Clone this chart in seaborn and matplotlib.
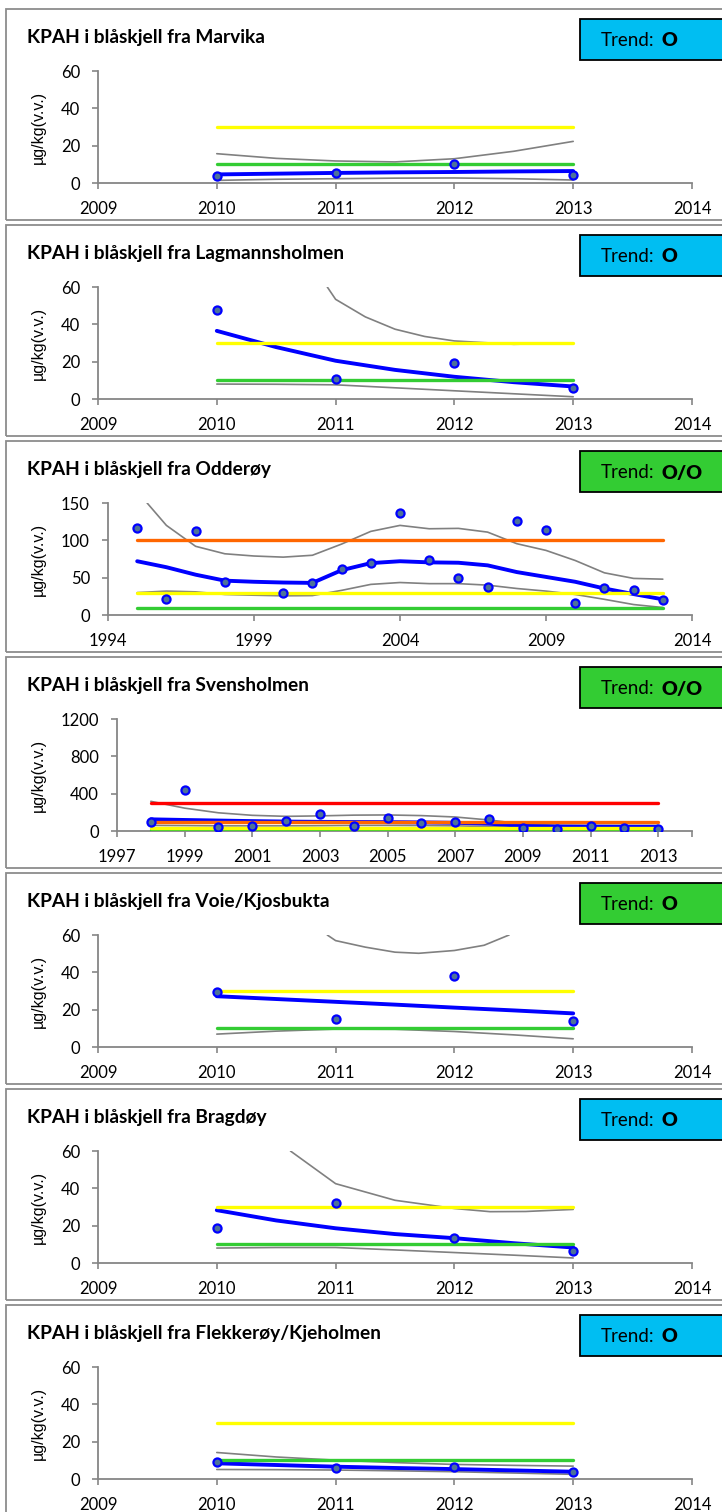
import numpy as np
import pandas as pd
import matplotlib
matplotlib.use("Agg")
import matplotlib.pyplot as plt
from matplotlib.patches import Rectangle
import seaborn as sns

sns.set_theme(style="white")
plt.rcParams["font.family"] = ["Lato", "DejaVu Sans"]

# ---------------- data ----------------
titles = [
    "KPAH i blåskjell fra Marvika",
    "KPAH i blåskjell fra Lagmannsholmen",
    "KPAH i blåskjell fra Odderøy",
    "KPAH i blåskjell fra Svensholmen",
    "KPAH i blåskjell fra Voie/Kjosbukta",
    "KPAH i blåskjell fra Bragdøy",
    "KPAH i blåskjell fra Flekkerøy/Kjeholmen",
]
trend_symbols = ["O", "O", "O/O", "O/O", "O", "O", "O"]
trend_colors = ["#00BEF2", "#00BEF2", "#33CC33", "#33CC33", "#33CC33", "#00BEF2", "#00BEF2"]
ylabel = "µg/kg(v.v.)"

years4 = [2010, 2011, 2012, 2013]
curve_x4 = [2010, 2010.5, 2011, 2011.5, 2012, 2012.5, 2013]
xticks4 = [2009, 2010, 2011, 2012, 2013, 2014]
yticks60 = [0, 20, 40, 60]

# Marvika
marvika_obs = [3.6, 5.6, 10.4, 4.5]
marvika_trend = [4.6, 5.0, 5.4, 5.7, 5.9, 6.2, 6.4]
marvika_upper_x = curve_x4
marvika_upper = [15.7, 13.2, 11.8, 11.3, 13.0, 17.0, 22.3]
marvika_lower = [1.4, 2.0, 2.3, 2.6, 2.7, 2.3, 1.6]
marvika_levels = [10, 30]

# Lagmannsholmen
lagm_obs = [47.5, 10.7, 19.2, 5.7]
lagm_trend = [36.5, 27.8, 20.5, 15.6, 11.9, 9.0, 6.7]
lagm_upper_x = [2010.93, 2011, 2011.25, 2011.5, 2011.75, 2012, 2012.5, 2013]
lagm_upper = [60, 53.4, 44.0, 37.4, 33.5, 31.1, 29.3, 30.0]
lagm_lower = [8.0, 7.9, 7.6, 6.0, 4.4, 2.8, 1.2]
lagm_levels = [10, 30]

# Odderøy
odd_years = [1995, 1996, 1997, 1998, 2000, 2001, 2002, 2003, 2004, 2005,
             2006, 2007, 2008, 2009, 2010, 2011, 2012, 2013]
odd_obs = [116, 21, 113, 44, 29, 43, 61, 69, 137, 73, 49, 37, 126, 114, 15.5, 36, 34, 20]
odd_curve_x = list(range(1995, 2014))
odd_trend = [72, 64, 54, 46, 44.5, 43.5, 43, 60, 69.5, 72, 70.5, 70, 66.5, 57.5, 51, 44.5, 35.5, 28, 21]
odd_upper_x = [1995.34] + list(range(1996, 2014))
odd_upper = [150, 120, 92, 82, 79, 77.5, 80, 95, 112, 120, 115.5, 116, 111, 95.5, 86.5, 73, 56.5, 49, 48]
odd_lower = [30, 32, 31, 27.5, 26.5, 25.7, 26, 33, 41, 43.5, 42, 42, 40, 35.5, 32, 27.5, 21, 14, 10]
odd_levels = [10, 30, 100]
odd_xticks = [1994, 1999, 2004, 2009, 2014]
odd_yticks = [0, 50, 100, 150]

# Svensholmen
sv_years = list(range(1998, 2014))
sv_obs = [96, 435, 43, 58, 104, 186, 58, 143, 90, 96, 125, 36, 25, 50, 36, 21]
sv_trend = [125, 118, 112, 106, 101, 98, 96, 95, 92, 88, 78, 55, 48, 46, 45, 44]
sv_upper = [318, 245, 195, 168, 157, 162, 170, 172, 165, 150, 118, 75, 62, 60, 60, 60]
sv_lower = [60, 58, 55, 55, 55, 57, 60, 60, 58, 55, 48, 38, 32, 28, 25, 22]
sv_levels = [10, 30, 100, 300]
sv_xticks = [1997, 1999, 2001, 2003, 2005, 2007, 2009, 2011, 2013, 2014]
sv_xticklabels = ["1997", "1999", "2001", "2003", "2005", "2007", "2009", "2011", "2013", ""]
sv_yticks = [0, 400, 800, 1200]

# Voie/Kjosbukta
voie_obs = [29.5, 15.0, 37.9, 14.0]
voie_trend = [27.2, 25.7, 24.2, 22.7, 21.1, 19.6, 18.0]
voie_upper_x = [2010.93, 2011, 2011.25, 2011.5, 2011.7, 2012, 2012.25, 2012.46]
voie_upper = [60, 57, 53.5, 50.8, 50.2, 51.7, 54.5, 60]
voie_lower = [6.9, 8.5, 9.6, 9.5, 8.3, 6.5, 4.4]
voie_levels = [10, 30]

# Bragdøy
brag_obs = [18.9, 32.4, 13.3, 6.2]
brag_trend = [28.3, 22.8, 18.6, 15.5, 13.3, 10.6, 8.3]
brag_upper_x = [2010.62, 2011, 2011.5, 2012, 2012.3, 2012.6, 2013]
brag_upper = [60, 42.5, 33.6, 29.2, 27.5, 27.6, 28.7]
brag_lower = [8.0, 8.3, 8.3, 7.0, 5.6, 4.2, 2.7]
brag_levels = [10, 30]

# Flekkerøy/Kjeholmen
flek_obs = [9.2, 5.7, 6.6, 3.9]
flek_trend = [8.4, 7.5, 6.6, 5.9, 5.3, 4.6, 3.9]
flek_upper = [14.2, 11.8, 10.1, 8.8, 7.8, 7.3, 6.9]
flek_lower = [5.1, 5.0, 4.8, 4.4, 3.9, 3.2, 2.5]
flek_levels = [10, 30]

level_colors = {10: "#33CC33", 30: "#FFFF00", 100: "#FF6600", 300: "#FF0000"}

panels = [
    dict(obs_x=years4, obs=marvika_obs, cx=curve_x4, trend=marvika_trend,
         ux=marvika_upper_x, up=marvika_upper, lx=curve_x4, lo=marvika_lower,
         levels=marvika_levels, xlim=(2009, 2014), xt=xticks4, xtl=None, yt=yticks60, left=98),
    dict(obs_x=years4, obs=lagm_obs, cx=curve_x4, trend=lagm_trend,
         ux=lagm_upper_x, up=lagm_upper, lx=curve_x4, lo=lagm_lower,
         levels=lagm_levels, xlim=(2009, 2014), xt=xticks4, xtl=None, yt=yticks60, left=98),
    dict(obs_x=odd_years, obs=odd_obs, cx=odd_curve_x, trend=odd_trend,
         ux=odd_upper_x, up=odd_upper, lx=odd_curve_x, lo=odd_lower,
         levels=odd_levels, xlim=(1994, 2014), xt=odd_xticks, xtl=None, yt=odd_yticks, left=108),
    dict(obs_x=sv_years, obs=sv_obs, cx=sv_years, trend=sv_trend,
         ux=sv_years, up=sv_upper, lx=sv_years, lo=sv_lower,
         levels=sv_levels, xlim=(1997, 2014), xt=sv_xticks, xtl=sv_xticklabels, yt=sv_yticks, left=117),
    dict(obs_x=years4, obs=voie_obs, cx=curve_x4, trend=voie_trend,
         ux=voie_upper_x, up=voie_upper, lx=curve_x4, lo=voie_lower,
         levels=voie_levels, xlim=(2009, 2014), xt=xticks4, xtl=None, yt=yticks60, left=98),
    dict(obs_x=years4, obs=brag_obs, cx=curve_x4, trend=brag_trend,
         ux=brag_upper_x, up=brag_upper, lx=curve_x4, lo=brag_lower,
         levels=brag_levels, xlim=(2009, 2014), xt=xticks4, xtl=None, yt=yticks60, left=98),
    dict(obs_x=years4, obs=flek_obs, cx=curve_x4, trend=flek_trend,
         ux=curve_x4, up=flek_upper, lx=curve_x4, lo=flek_lower,
         levels=flek_levels, xlim=(2009, 2014), xt=xticks4, xtl=None, yt=yticks60, left=98),
]

# ---------------- figure ----------------
W, H = 722, 1512
fig = plt.figure(figsize=(W / 100, H / 100), dpi=100)
fig.patch.set_facecolor("white")

def fx(px):
    return px / W

def fy(py):
    return 1 - py / H

axis_gray = "#868686"
for i, p in enumerate(panels):
    top = 9 + 216 * i
    # panel frame
    fig.patches.append(Rectangle((fx(6), fy(top + 211)), fx(760) - fx(6), (211) / H,
                                 transform=fig.transFigure, fill=False,
                                 edgecolor="#8c8c8c", linewidth=1.3, zorder=0))
    # title
    fig.text(fx(27), fy(top + 28), titles[i], fontsize=13.8, fontweight="bold",
             ha="left", va="center", color="black")
    # trend box
    fig.patches.append(Rectangle((fx(580), fy(top + 51)), fx(760) - fx(580), 41 / H,
                                 transform=fig.transFigure, facecolor=trend_colors[i],
                                 edgecolor="black", linewidth=1.3, zorder=1))
    fig.text(fx(601), fy(top + 32), "Trend:", fontsize=13.5, ha="left", va="center",
             color="black", zorder=3)
    fig.text(fx(662), fy(top + 32), trend_symbols[i], fontsize=14, fontweight="heavy",
             ha="left", va="center", color="black", zorder=3)

    left = p["left"]
    right = 692
    ax_top = top + 62
    ax_bot = top + 174
    ax = fig.add_axes([fx(left), fy(ax_bot), (right - left) / W, (ax_bot - ax_top) / H])
    ax.set_facecolor("none")

    # confidence band curves
    sns.lineplot(x=p["ux"], y=p["up"], ax=ax, color="#808080", linewidth=1.2,
                 estimator=None, sort=False, zorder=2)
    sns.lineplot(x=p["lx"], y=p["lo"], ax=ax, color="#808080", linewidth=1.2,
                 estimator=None, sort=False, zorder=2)
    # trend
    sns.lineplot(x=p["cx"], y=p["trend"], ax=ax, color="#0000FF", linewidth=2.8,
                 estimator=None, sort=False, zorder=3)
    # level lines
    x0, x1 = p["obs_x"][0], p["obs_x"][-1]
    for lv in p["levels"]:
        sns.lineplot(x=[x0, x1], y=[lv, lv], ax=ax, color=level_colors[lv],
                     linewidth=2.4, estimator=None, zorder=4)
    # observations
    sns.scatterplot(x=p["obs_x"], y=p["obs"], ax=ax, s=34, color="#4D7299",
                    edgecolor="#0000FF", linewidth=1.6, zorder=5)

    ax.set_xlim(*p["xlim"])
    ax.set_ylim(p["yt"][0], p["yt"][-1])
    ax.set_xticks(p["xt"])
    if p["xtl"] is not None:
        ax.set_xticklabels(p["xtl"])
    else:
        ax.set_xticklabels([str(t) for t in p["xt"]])
    ax.set_yticks(p["yt"])
    ax.set_yticklabels([str(t) for t in p["yt"]])
    for s in ["top", "right"]:
        ax.spines[s].set_visible(False)
    for s in ["left", "bottom"]:
        ax.spines[s].set_color(axis_gray)
        ax.spines[s].set_linewidth(1.3)
    ax.tick_params(axis="both", which="major", direction="out", length=4, width=1.2,
                   color=axis_gray, labelsize=12, labelcolor="black", pad=9,
                   bottom=True, left=True)
    ax.set_xlabel("")
    ax.set_ylabel("")
    ax.grid(False)
    fig.text(fx(38), fy((ax_top + ax_bot) / 2), ylabel, rotation=90, fontsize=11.5,
             family=["Liberation Sans", "DejaVu Sans"], ha="center", va="center",
             color="black")

fig.savefig("out.png", dpi=100, facecolor="white")
